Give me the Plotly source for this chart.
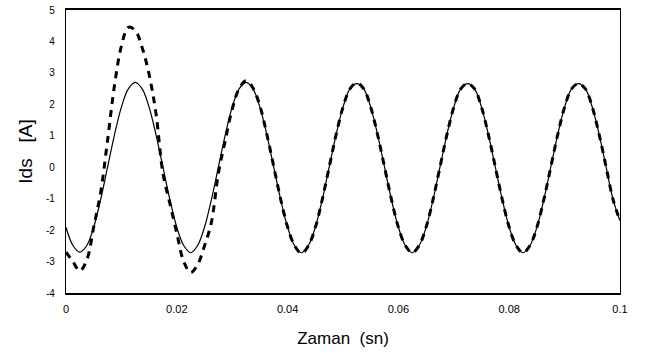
import plotly.graph_objects as go

# sample times (s), step 1.25 ms
t = [round(i * 0.00125, 5) for i in range(81)]

# steady-state current (solid)
solid = [
    -1.91, -2.49, -2.70, -2.49, -1.91, -1.03, 0.00, 1.03, 1.91, 2.49, 2.70, 2.49, 1.91, 1.03, 0.00, -1.03,
    -1.91, -2.49, -2.72, -2.49, -1.91, -1.03, 0.00, 1.03, 1.91, 2.49, 2.70, 2.49, 1.91, 1.03, 0.00, -1.03,
    -1.91, -2.49, -2.72, -2.49, -1.91, -1.03, 0.00, 1.03, 1.91, 2.49, 2.66, 2.49, 1.91, 1.03, 0.00, -1.03,
    -1.91, -2.49, -2.72, -2.49, -1.91, -1.03, 0.00, 1.03, 1.91, 2.49, 2.66, 2.49, 1.91, 1.03, 0.00, -1.03,
    -1.91, -2.49, -2.72, -2.49, -1.91, -1.03, 0.00, 1.03, 1.91, 2.49, 2.66, 2.49, 1.91, 1.03, 0.00, -1.03,
    -1.70,
]

# transient current (dashed)
dashed = [
    -2.70, -3.00, -3.30, -2.95, -1.90, -0.80, 0.85, 2.60, 3.85, 4.45, 4.35, 3.80, 2.95, 1.70, -0.20, -1.15,
    -2.10, -3.00, -3.35, -3.10, -2.50, -1.75, -0.20, 0.85, 1.85, 2.50, 2.75, 2.52, 1.95, 1.05, 0.02, -1.02,
    -1.90, -2.49, -2.74, -2.50, -1.92, -1.03, 0.00, 1.03, 1.91, 2.49, 2.68, 2.49, 1.91, 1.03, 0.00, -1.03,
    -1.91, -2.49, -2.72, -2.49, -1.91, -1.03, 0.00, 1.03, 1.91, 2.49, 2.66, 2.49, 1.91, 1.03, 0.00, -1.03,
    -1.91, -2.49, -2.72, -2.49, -1.91, -1.03, 0.00, 1.03, 1.91, 2.49, 2.66, 2.49, 1.91, 1.03, 0.00, -1.03,
    -1.70,
]

x_ticks = [0, 0.02, 0.04, 0.06, 0.08, 0.1]
x_tick_labels = ["0", "0.02", "0.04", "0.06", "0.08", "0.1"]
y_ticks = [5, 4, 3, 2, 1, 0, -1, -2, -3, -4]
y_tick_labels = ["5", "4", "3", "2", "1", "0", "-1", "-2", "-3", "-4"]

fig = go.Figure()
fig.add_trace(go.Scatter(
    x=t, y=solid, mode="lines",
    line=dict(color="black", width=1.2, shape="spline", smoothing=1.0),
    showlegend=False,
))
fig.add_trace(go.Scatter(
    x=t, y=dashed, mode="lines",
    line=dict(color="black", width=3, dash="7px,6px", shape="spline", smoothing=1.0),
    showlegend=False,
))

fig.update_layout(
    width=646, height=357,
    margin=dict(l=66, r=26, t=10, b=64, autoexpand=False),
    paper_bgcolor="white", plot_bgcolor="white",
    font=dict(family="Liberation Sans, Arial, sans-serif", color="black"),
)
fig.update_xaxes(
    range=[0, 0.1], tickvals=x_ticks, ticktext=x_tick_labels,
    showgrid=False, zeroline=False, automargin=False,
    showline=True, linecolor="black", linewidth=1.5, mirror=True,
    ticks="", tickfont=dict(size=11), ticklabelstandoff=5,
    title=dict(text="Zaman\u00a0\u00a0(sn)", font=dict(size=17), standoff=18),
)
fig.update_yaxes(
    range=[-4, 5], tickvals=y_ticks, ticktext=y_tick_labels,
    showgrid=False, zeroline=False, automargin=False,
    showline=True, linecolor="black", linewidth=1.2, mirror=True,
    ticks="", tickfont=dict(size=10), ticklabelstandoff=8,
    title=dict(text="Ids\u00a0\u00a0\u00a0[A]", font=dict(size=19), standoff=8),
)

fig.write_html("out.html", config={"displayModeBar": False},
               post_script="document.body.style.margin='0';")
